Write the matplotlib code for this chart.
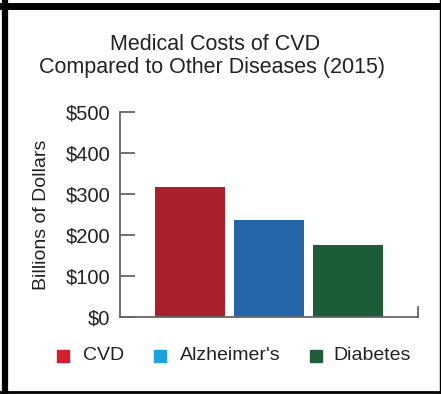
import matplotlib
matplotlib.use("Agg")
import matplotlib.pyplot as plt
from matplotlib.patches import Rectangle
from matplotlib.lines import Line2D

categories = ["CVD", "Alzheimer's", "Diabetes"]
values = [318, 236, 176]
bar_colors = ["#a8202c", "#2566a9", "#1c5d37"]
legend_colors = ["#d11f2f", "#1ea2dc", "#1f5e38"]
yticks = [0, 100, 200, 300, 400, 500]
ytick_labels = ["$0", "$100", "$200", "$300", "$400", "$500"]

W, H = 441, 394
plt.rcParams['font.family'] = ['Liberation Sans', 'DejaVu Sans']
fig = plt.figure(figsize=(W / 100, H / 100), dpi=100)
fig.patch.set_facecolor("white")

ax = fig.add_axes([120 / W, (H - 317) / H, 298 / W, 205 / H])
x = list(range(len(categories)))
ax.bar(x, values, width=0.886, color=bar_colors)
ax.set_xlim(-0.886, 2.886)
ax.set_ylim(0, 500)
ax.set_yticks(yticks)
ax.set_yticklabels(ytick_labels)
ax.set_xticks([])
for s in ["top", "right"]:
    ax.spines[s].set_visible(False)
axis_col = "#666666"
for s in ["left", "bottom"]:
    ax.spines[s].set_color(axis_col)
    ax.spines[s].set_linewidth(1.3)
ax.tick_params(axis="y", direction="in", length=11, width=1.3, color=axis_col,
               labelsize=14.5, pad=7, labelcolor="#222222")
ax.add_line(Line2D([1, 1], [0, 0.05], transform=ax.transAxes, color=axis_col,
                   lw=1.3, clip_on=False))

fig.text(42 / W, 1 - 215 / H, "Billions of Dollars", rotation=90, ha="center",
         va="center", fontsize=14, color="#222222")

fig.text(215 / W, 1 - 45 / H, "Medical Costs of CVD", ha="center", va="center",
         fontsize=15.5, color="#222222")
fig.text(212 / W, 1 - 68 / H, "Compared to Other Diseases (2015)", ha="center",
         va="center", fontsize=15.5, color="#222222")

# legend
sq_x = [57, 154, 310]
txt_x = [83, 180, 333]
for c, sx, tx, lab in zip(legend_colors, sq_x, txt_x, categories):
    fig.patches.append(Rectangle((sx / W, 1 - 362 / H), 12 / W, 12 / H,
                                 transform=fig.transFigure, color=c))
    fig.text(tx / W, 1 - 356 / H, lab, ha="left", va="center", fontsize=14,
             color="#222222")

# frame
fig.add_artist(Line2D([5 / W, 5 / W], [0, 1], transform=fig.transFigure,
                      color="black", lw=4.5))
fig.add_artist(Line2D([0, 1], [1 - 5.5 / H, 1 - 5.5 / H], transform=fig.transFigure,
                      color="black", lw=5))
fig.add_artist(Line2D([0, 1], [1 - 392 / H, 1 - 392 / H], transform=fig.transFigure,
                      color="black", lw=2))
fig.add_artist(Line2D([439.5 / W, 439.5 / W], [0, 1], transform=fig.transFigure,
                      color="black", lw=1))

fig.savefig("out.png", dpi=100)
